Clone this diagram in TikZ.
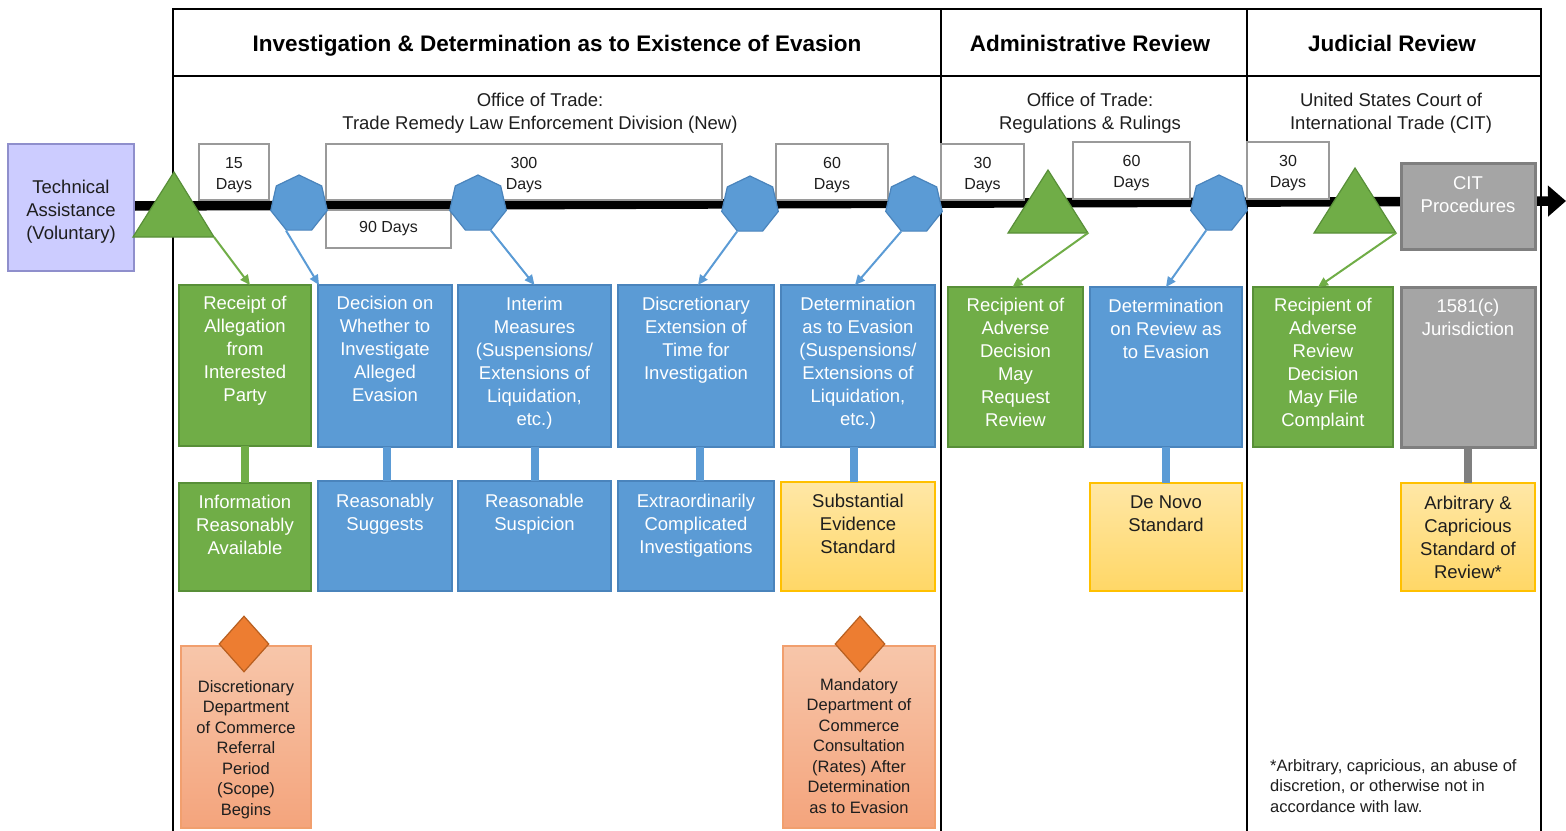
\documentclass[tikz,border=0pt]{standalone}
\usepackage{fontspec}
\setmainfont{Liberation Sans}
\usetikzlibrary{arrows.meta,shapes.geometric,calc}
\definecolor{grn}{HTML}{70AD47}
\definecolor{grnD}{HTML}{588F38}
\definecolor{blu}{HTML}{5B9BD5}
\definecolor{bluD}{HTML}{4A84BC}
\definecolor{gry}{HTML}{A5A5A5}
\definecolor{gryD}{HTML}{7F7F7F}
\definecolor{ylwT}{HTML}{FFE7A6}
\definecolor{ylwB}{HTML}{FFD766}
\definecolor{ylwD}{HTML}{FFC000}
\definecolor{orT}{HTML}{F7C6AA}
\definecolor{orB}{HTML}{F4A47C}
\definecolor{orD}{HTML}{F19F6E}
\definecolor{dia}{HTML}{ED7D31}
\definecolor{diaD}{HTML}{B85F20}
\definecolor{lav}{HTML}{CCCCFF}
\definecolor{lavD}{HTML}{8F8FCC}
\definecolor{durD}{HTML}{9A9A9A}
\definecolor{dtx}{HTML}{1E1E1E}
\newcommand\mkbox[6]{\node[#1, minimum width={#5-#3}, minimum height={#6-#4}] (#2) at (#3,#4) {};}
\newcommand\dstrut{\rule{0pt}{17pt}}
\newcommand\tstrut{\rule{0pt}{21pt}}
\tikzset{
  frm/.style={line width=1.8pt, draw=black},
  bxbase/.style={anchor=north west, inner sep=0pt, outer sep=0pt, line width=1.6pt},
  gbx/.style={bxbase, fill=grn, draw=grnD},
  bbx/.style={bxbase, fill=blu, draw=bluD},
  grbx/.style={bxbase, fill=gry, draw=gryD, line width=3pt},
  ybx/.style={bxbase, top color=ylwT, bottom color=ylwB, draw=ylwD},
  obx/.style={bxbase, top color=orT, bottom color=orB, draw=orD},
  durbx/.style={bxbase, fill=white, draw=durD, line width=1.3pt, align=center, text=dtx, font=\fontsize{16}{21}\selectfont},
  lavbx/.style={bxbase, fill=lav, draw=lavD, line width=1.3pt, align=center, text=dtx, font=\fontsize{18.5}{23}\selectfont},
  wtxt/.style={anchor=north, inner sep=0pt, align=center, text=white, font=\fontsize{18.5}{23}\selectfont},
  dtxt/.style={anchor=north, inner sep=0pt, align=center, text=dtx, font=\fontsize{18.5}{23}\selectfont},
  otxt/.style={anchor=north, inner sep=0pt, align=center, text=dtx, font=\fontsize{16.5}{20.5}\selectfont},
  hdr/.style={anchor=base, inner sep=0pt, text=black, font=\fontsize{22.5}{27}\selectfont\bfseries},
  subhdr/.style={inner sep=0pt, align=center, text=dtx, font=\fontsize{18.5}{23}\selectfont},
  tri/.style={fill=grn, draw=grnD, line width=1.2pt, line join=miter},
  hept/.style={regular polygon, regular polygon sides=7, minimum size=58pt, inner sep=0pt, fill=blu, draw=bluD, line width=1.2pt},
  dmd/.style={diamond, minimum width=50pt, minimum height=56pt, inner sep=0pt, fill=dia, draw=diaD, line width=1.2pt},
  garr/.style={draw=grn, line width=2pt, -{Triangle[length=10pt,width=9pt]}},
  barr/.style={draw=blu, line width=2pt, -{Triangle[length=10pt,width=9pt]}},
  vcon/.style={line width=8pt},
}
\begin{document}
\begin{tikzpicture}[x=1pt,y=-1pt]
\useasboundingbox (0,0) rectangle (1566,830);

% ---------- frame ----------
\draw[frm] (173,832) -- (173,9) -- (1541,9) -- (1541,832);
\draw[frm] (173,76) -- (1541,76);
\draw[frm] (941,9) -- (941,832);
\draw[frm] (1247,9) -- (1247,832);

\node[hdr] (hInv) at (557,51) {Investigation \& Determination as to Existence of Evasion};
\node[hdr] (hAdm) at (1090,51) {Administrative Review};
\node[hdr] (hJud) at (1392,51) {Judicial Review};

\node[subhdr] (sInv) at (540,113) {Office of Trade:\\Trade Remedy Law Enforcement Division (New)};
\node[subhdr] (sAdm) at (1090,113) {Office of Trade:\\Regulations \& Rulings};
\node[subhdr] (sJud) at (1391,113) {United States Court of\\International Trade (CIT)};

% ---------- timeline ----------
\coordinate (tlS) at (134,206);
\coordinate (tlE) at (1566,201);
\draw[line width=9.5pt, -{Triangle[length=18pt,width=30pt]}] (tlS) -- (tlE);

% duration boxes
\node[durbx, minimum width=70, minimum height=56] (d15) at (199,144) {\dstrut 15\\Days};
\node[durbx, minimum width=396, minimum height=56] (d300) at (326,144) {\dstrut 300\\Days};
\node[durbx, minimum width=125, minimum height=38] (d90) at (326,210) {90 Days};
\node[durbx, minimum width=112, minimum height=56] (d60a) at (776,144) {\dstrut 60\\Days};
\node[durbx, minimum width=83, minimum height=56] (d30a) at (941,144) {\dstrut 30\\Days};
\node[durbx, minimum width=117, minimum height=57] (d60b) at (1073,142) {\dstrut 60\\Days};
\node[durbx, minimum width=82, minimum height=57] (d30b) at (1247,142) {\dstrut 30\\Days};

% technical assistance
\node[lavbx, minimum width=126, minimum height=127] (tech) at (8,144) {\tstrut Technical\\Assistance\\(Voluntary)};

% CIT procedures
\mkbox{grbx}{cit}{1401}{163}{1535}{249}
\node[wtxt] (citT) at ([yshift=-13.5]cit.north) {CIT\\Procedures};

% triangles
\coordinate (t1a) at (174,172); \coordinate (t1l) at (133,237); \coordinate (t1r) at (214,237);
\coordinate (t2a) at (1048,170); \coordinate (t2l) at (1008,233); \coordinate (t2r) at (1088,233);
\coordinate (t3a) at (1355,168); \coordinate (t3l) at (1314,233); \coordinate (t3r) at (1396,233);
\draw[tri] (t1l) -- (t1a) -- (t1r) -- cycle;
\draw[tri] (t2l) -- (t2a) -- (t2r) -- cycle;
\draw[tri] (t3l) -- (t3a) -- (t3r) -- cycle;

% heptagons
\node[hept] (h1) at (299,204) {};
\node[hept] (h2) at (478,204) {};
\node[hept] (h3) at (750,205) {};
\node[hept] (h4) at (914,205) {};
\node[hept] (h5) at (1219,204) {};

% ---------- row 1 ----------
\mkbox{gbx}{b1}{179}{285}{311}{446}
\mkbox{bbx}{b2}{318}{285}{452}{447}
\mkbox{bbx}{b3}{458}{285}{611}{447}
\mkbox{bbx}{b4}{618}{285}{774}{447}
\mkbox{bbx}{b5}{781}{285}{935}{447}
\mkbox{gbx}{b6}{948}{287}{1083}{447}
\mkbox{bbx}{b7}{1090}{287}{1242}{447}
\mkbox{gbx}{b8}{1253}{287}{1393}{447}
\mkbox{grbx}{b9}{1401}{287}{1535}{447}

\node[wtxt] (b1t) at ([yshift=-10.5]b1.north) {Receipt of\\Allegation\\from\\Interested\\Party};
\node[wtxt] (b2t) at ([yshift=-10.5]b2.north) {Decision on\\Whether to\\Investigate\\Alleged\\Evasion};
\node[wtxt] (b3t) at ([yshift=-12]b3.north) {Interim\\Measures\\(Suspensions/\\Extensions of\\Liquidation,\\etc.)};
\node[wtxt] (b4t) at ([yshift=-12]b4.north) {Discretionary\\Extension of\\Time for\\Investigation};
\node[wtxt] (b5t) at ([yshift=-12]b5.north) {Determination\\as to Evasion\\(Suspensions/\\Extensions of\\Liquidation,\\etc.)};
\node[wtxt] (b6t) at ([yshift=-10.5]b6.north) {Recipient of\\Adverse\\Decision\\May\\Request\\Review};
\node[wtxt] (b7t) at ([yshift=-11.5]b7.north) {Determination\\on Review as\\to Evasion};
\node[wtxt] (b8t) at ([yshift=-10.5]b8.north) {Recipient of\\Adverse\\Review\\Decision\\May File\\Complaint};
\node[wtxt] (b9t) at ([yshift=-11.5]b9.north) {1581(c)\\Jurisdiction};

% ---------- row 2 ----------
\mkbox{gbx}{r1}{179}{483}{311}{591}
\mkbox{bbx}{r2}{318}{481}{452}{591}
\mkbox{bbx}{r3}{458}{481}{611}{591}
\mkbox{bbx}{r4}{618}{481}{774}{591}
\mkbox{ybx}{r5}{781}{482}{935}{591}
\mkbox{ybx}{r7}{1090}{483}{1242}{591}
\mkbox{ybx}{r9}{1401}{483}{1535}{591}

\node[wtxt] (r1t) at ([yshift=-11.5]r1.north) {Information\\Reasonably\\Available};
\node[wtxt] (r2t) at ([yshift=-12.5]r2.north) {Reasonably\\Suggests};
\node[wtxt] (r3t) at ([yshift=-12.5]r3.north) {Reasonable\\Suspicion};
\node[wtxt] (r4t) at ([yshift=-12.5]r4.north) {Extraordinarily\\Complicated\\Investigations};
\node[dtxt] (r5t) at ([yshift=-11.5]r5.north) {Substantial\\Evidence\\Standard};
\node[dtxt] (r7t) at ([yshift=-12.5]r7.north) {De Novo\\Standard};
\node[dtxt] (r9t) at ([yshift=-12.5]r9.north) {Arbitrary \&\\Capricious\\Standard of\\Review*};

% row connectors
\draw[vcon, draw=grn] (b1.south) -- (r1.north);
\draw[vcon, draw=blu] ([xshift=2]b2.south) -- ([xshift=2]r2.north);
\draw[vcon, draw=blu] (b3.south) -- (r3.north);
\draw[vcon, draw=blu] ([xshift=4]b4.south) -- ([xshift=4]r4.north);
\draw[vcon, draw=blu] ([xshift=-4]b5.south) -- ([xshift=-4]r5.north);
\draw[vcon, draw=blu] (b7.south) -- (r7.north);
\draw[vcon, draw=gryD] (b9.south) -- (r9.north);

% arrows from timeline events
\draw[garr] (t1r) -- ([xshift=5]b1.north);
\draw[barr] (h1.-116) -- ([xshift=1]b2.north west);
\draw[barr] (h2.-64) -- (b3.north);
\draw[barr] (h3.-116) -- ([xshift=2]b4.north);
\draw[barr] (h4.-116) -- ([xshift=-3]b5.north);
\draw[garr] (t2r) -- ([xshift=-3]b6.north);
\draw[barr] (h5.-116) -- (b7.north);
\draw[garr] (t3r) -- ([xshift=-5]b8.north);

% ---------- orange boxes ----------
\mkbox{obx}{o1}{181}{646}{311}{828}
\mkbox{obx}{o2}{783}{646}{935}{828}
\node[dmd] (dm1) at (244,644) {};
\node[dmd] (dm2) at (860,644) {};
\node[otxt] (o1t) at ([yshift=-34]o1.north) {Discretionary\\Department\\of Commerce\\Referral\\Period\\(Scope)\\Begins};
\node[otxt] (o2t) at ([yshift=-32]o2.north) {Mandatory\\Department of\\Commerce\\Consultation\\(Rates) After\\Determination\\as to Evasion};

% footnote
\node[anchor=north west, inner sep=0pt, align=left, text=dtx, font=\fontsize{16.5}{20.5}\selectfont] (fn) at (1270,759) {*Arbitrary, capricious, an abuse of\\discretion, or otherwise not in\\accordance with law.};
\end{tikzpicture}
\end{document}
